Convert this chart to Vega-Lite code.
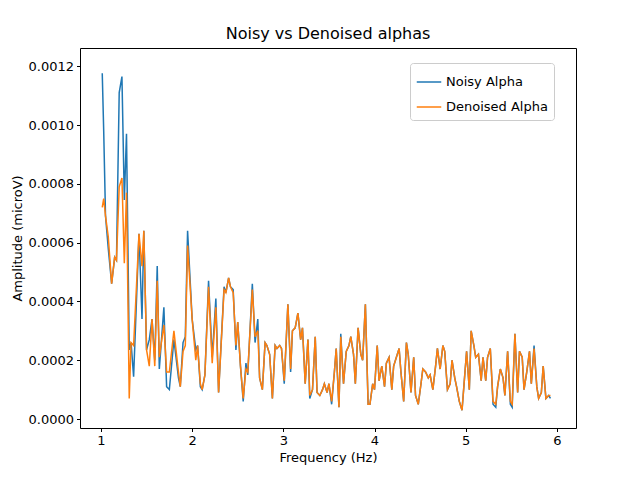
{
  "$schema": "https://vega.github.io/schema/vega-lite/v6.json",
  "width": 496,
  "height": 380,
  "autosize": "none",
  "padding": {"left": 80, "top": 48, "right": 64, "bottom": 52},
  "background": "white",
  "config": {
    "font": "DejaVu Sans",
    "view": {"stroke": "black", "strokeWidth": 1},
    "axis": {"grid": false, "domain": false, "tickColor": "black", "labelColor": "black", "titleColor": "black", "labelFontSize": 13, "titleFontSize": 13, "titleFontWeight": "normal", "tickSize": 3.5, "labelPadding": 3},
    "title": {"fontSize": 16, "fontWeight": "normal", "offset": 6}
  },
  "title": "Noisy vs Denoised alphas",
  "data": {"values": [
    {"f": 1.014, "n": 0.001176, "d": 0.00072},
    {"f": 1.03, "n": 0.00098, "d": 0.00075},
    {"f": 1.05, "n": 0.00069, "d": 0.00069},
    {"f": 1.08, "n": 0.00058, "d": 0.00062},
    {"f": 1.117, "n": 0.00046, "d": 0.00046},
    {"f": 1.15, "n": 0.00055, "d": 0.00055},
    {"f": 1.17, "n": 0.00054, "d": 0.00054},
    {"f": 1.2, "n": 0.00111, "d": 0.00079},
    {"f": 1.23, "n": 0.001165, "d": 0.00082},
    {"f": 1.256, "n": 0.000745, "d": 0.00053},
    {"f": 1.28, "n": 0.00097, "d": 0.00077},
    {"f": 1.31, "n": 0.000235, "d": 0.00007},
    {"f": 1.33, "n": 0.00026, "d": 0.00026},
    {"f": 1.358, "n": 0.000144, "d": 0.00025},
    {"f": 1.417, "n": 0.00063, "d": 0.00063},
    {"f": 1.45, "n": 0.00034, "d": 0.00052},
    {"f": 1.47, "n": 0.00064, "d": 0.00064},
    {"f": 1.5, "n": 0.000235, "d": 0.000235},
    {"f": 1.53, "n": 0.00027, "d": 0.00018},
    {"f": 1.56, "n": 0.00034, "d": 0.00034},
    {"f": 1.59, "n": 0.0002, "d": 0.00018},
    {"f": 1.617, "n": 0.00052, "d": 0.00047},
    {"f": 1.64, "n": 0.00017, "d": 0.00021},
    {"f": 1.69, "n": 0.00038, "d": 0.00032},
    {"f": 1.72, "n": 0.00011, "d": 0.00016},
    {"f": 1.75, "n": 0.0001, "d": 0.00016},
    {"f": 1.8, "n": 0.00027, "d": 0.0003},
    {"f": 1.85, "n": 0.00014, "d": 0.00016},
    {"f": 1.87, "n": 0.00011, "d": 0.00011},
    {"f": 1.9, "n": 0.00026, "d": 0.00023},
    {"f": 1.925, "n": 0.00028, "d": 0.00025},
    {"f": 1.95, "n": 0.00064, "d": 0.00059},
    {"f": 2.0, "n": 0.00034, "d": 0.00034},
    {"f": 2.04, "n": 0.000235, "d": 0.0002},
    {"f": 2.06, "n": 0.00025, "d": 0.00025},
    {"f": 2.09, "n": 0.00011, "d": 0.00012},
    {"f": 2.11, "n": 0.0001, "d": 0.0001},
    {"f": 2.14, "n": 0.00015, "d": 0.00015},
    {"f": 2.18, "n": 0.00047, "d": 0.00045},
    {"f": 2.22, "n": 0.00021, "d": 0.00019},
    {"f": 2.26, "n": 0.00041, "d": 0.00038},
    {"f": 2.29, "n": 0.00009, "d": 0.00009},
    {"f": 2.35, "n": 0.00045, "d": 0.00044},
    {"f": 2.37, "n": 0.00043, "d": 0.00043},
    {"f": 2.4, "n": 0.00048, "d": 0.00048},
    {"f": 2.42, "n": 0.00045, "d": 0.00045},
    {"f": 2.45, "n": 0.00044, "d": 0.00043},
    {"f": 2.48, "n": 0.000235, "d": 0.00025},
    {"f": 2.5, "n": 0.00033, "d": 0.00033},
    {"f": 2.53, "n": 0.00018, "d": 0.00018},
    {"f": 2.56, "n": 0.00006, "d": 0.00007},
    {"f": 2.59, "n": 0.00019, "d": 0.00017},
    {"f": 2.61, "n": 0.00015, "d": 0.00016},
    {"f": 2.66, "n": 0.00046, "d": 0.00044},
    {"f": 2.69, "n": 0.00026, "d": 0.00028},
    {"f": 2.72, "n": 0.00034, "d": 0.0003},
    {"f": 2.74, "n": 0.00014, "d": 0.00014},
    {"f": 2.77, "n": 0.0001, "d": 0.0001},
    {"f": 2.8, "n": 0.00026, "d": 0.00026},
    {"f": 2.82, "n": 0.00025, "d": 0.00025},
    {"f": 2.85, "n": 0.00022, "d": 0.00022},
    {"f": 2.88, "n": 0.00007, "d": 0.00007},
    {"f": 2.91, "n": 0.00025, "d": 0.00025},
    {"f": 2.93, "n": 0.00024, "d": 0.00024},
    {"f": 2.96, "n": 0.00025, "d": 0.00025},
    {"f": 2.98, "n": 0.00024, "d": 0.00024},
    {"f": 3.01, "n": 0.00012, "d": 0.00013},
    {"f": 3.05, "n": 0.00039, "d": 0.00039},
    {"f": 3.08, "n": 0.00016, "d": 0.00017},
    {"f": 3.1, "n": 0.0003, "d": 0.0003},
    {"f": 3.13, "n": 0.00031, "d": 0.00031},
    {"f": 3.16, "n": 0.00036, "d": 0.00036},
    {"f": 3.19, "n": 0.00027, "d": 0.00027},
    {"f": 3.21, "n": 0.00031, "d": 0.00031},
    {"f": 3.24, "n": 0.00012, "d": 0.00012},
    {"f": 3.27, "n": 0.00027, "d": 0.00027},
    {"f": 3.29, "n": 0.00007, "d": 0.00008},
    {"f": 3.32, "n": 0.0001, "d": 0.0001},
    {"f": 3.35, "n": 0.00028, "d": 0.00028},
    {"f": 3.37, "n": 0.00009, "d": 0.00009},
    {"f": 3.4, "n": 0.00008, "d": 0.00008},
    {"f": 3.43, "n": 0.0001, "d": 0.0001},
    {"f": 3.45, "n": 0.00012, "d": 0.00012},
    {"f": 3.48, "n": 0.00009, "d": 0.00009},
    {"f": 3.5, "n": 0.00012, "d": 0.00012},
    {"f": 3.53, "n": 0.00005, "d": 0.00006},
    {"f": 3.56, "n": 0.00016, "d": 0.00016},
    {"f": 3.58, "n": 0.00024, "d": 0.00024},
    {"f": 3.61, "n": 0.00004, "d": 0.00004},
    {"f": 3.63, "n": 0.00029, "d": 0.00028},
    {"f": 3.66, "n": 0.00012, "d": 0.00012},
    {"f": 3.69, "n": 0.00023, "d": 0.00023},
    {"f": 3.72, "n": 0.00025, "d": 0.00025},
    {"f": 3.74, "n": 0.00028, "d": 0.00028},
    {"f": 3.77, "n": 0.00022, "d": 0.00022},
    {"f": 3.79, "n": 0.00012, "d": 0.00012},
    {"f": 3.82, "n": 0.00031, "d": 0.00031},
    {"f": 3.85, "n": 0.00022, "d": 0.00022},
    {"f": 3.87, "n": 0.0002, "d": 0.0002},
    {"f": 3.9, "n": 0.00039, "d": 0.00039},
    {"f": 3.93, "n": 0.00005, "d": 0.00005},
    {"f": 3.95, "n": 0.00005, "d": 0.00005},
    {"f": 3.98, "n": 0.00012, "d": 0.00012},
    {"f": 4.0, "n": 0.0001, "d": 0.0001},
    {"f": 4.03, "n": 0.00025, "d": 0.00025},
    {"f": 4.05, "n": 0.00013, "d": 0.00013},
    {"f": 4.08, "n": 0.00018, "d": 0.00018},
    {"f": 4.11, "n": 0.00011, "d": 0.00011},
    {"f": 4.13, "n": 0.00019, "d": 0.00019},
    {"f": 4.16, "n": 0.00021, "d": 0.00021},
    {"f": 4.19, "n": 0.0001, "d": 0.0001},
    {"f": 4.21, "n": 0.00018, "d": 0.00018},
    {"f": 4.24, "n": 0.00021, "d": 0.00021},
    {"f": 4.27, "n": 0.00024, "d": 0.00024},
    {"f": 4.29, "n": 0.00016, "d": 0.00016},
    {"f": 4.32, "n": 0.00006, "d": 0.00006},
    {"f": 4.35, "n": 0.00026, "d": 0.00026},
    {"f": 4.37, "n": 0.00022, "d": 0.00022},
    {"f": 4.4, "n": 0.00009, "d": 0.00009},
    {"f": 4.43, "n": 0.00021, "d": 0.00021},
    {"f": 4.45, "n": 0.00008, "d": 0.00008},
    {"f": 4.48, "n": 0.00005, "d": 0.00005},
    {"f": 4.51, "n": 0.00012, "d": 0.00012},
    {"f": 4.53, "n": 0.00017, "d": 0.00017},
    {"f": 4.56, "n": 0.00016, "d": 0.00016},
    {"f": 4.59, "n": 0.00014, "d": 0.00014},
    {"f": 4.61, "n": 0.00015, "d": 0.00015},
    {"f": 4.64, "n": 0.0001, "d": 0.0001},
    {"f": 4.67, "n": 0.00018, "d": 0.00018},
    {"f": 4.69, "n": 0.00024, "d": 0.00024},
    {"f": 4.72, "n": 0.00017, "d": 0.00017},
    {"f": 4.75, "n": 0.00025, "d": 0.00025},
    {"f": 4.77, "n": 0.00023, "d": 0.00023},
    {"f": 4.8, "n": 0.0001, "d": 0.0001},
    {"f": 4.83, "n": 0.00012, "d": 0.00012},
    {"f": 4.85, "n": 0.0002, "d": 0.0002},
    {"f": 4.88, "n": 0.00014, "d": 0.00014},
    {"f": 4.9, "n": 0.00011, "d": 0.00011},
    {"f": 4.93, "n": 0.00006, "d": 0.00006},
    {"f": 4.96, "n": 0.00003, "d": 0.00003},
    {"f": 4.98, "n": 0.00011, "d": 0.00011},
    {"f": 5.01, "n": 0.00023, "d": 0.00023},
    {"f": 5.04, "n": 0.0001, "d": 0.0001},
    {"f": 5.06, "n": 0.0003, "d": 0.0003},
    {"f": 5.09, "n": 0.00025, "d": 0.00025},
    {"f": 5.11, "n": 0.00021, "d": 0.00021},
    {"f": 5.14, "n": 0.00022, "d": 0.00022},
    {"f": 5.17, "n": 0.00013, "d": 0.00013},
    {"f": 5.19, "n": 0.00021, "d": 0.00021},
    {"f": 5.22, "n": 0.00013, "d": 0.00013},
    {"f": 5.24, "n": 0.00021, "d": 0.00021},
    {"f": 5.27, "n": 0.00024, "d": 0.00024},
    {"f": 5.3, "n": 0.00005, "d": 0.00006},
    {"f": 5.33, "n": 0.00004, "d": 0.00005},
    {"f": 5.35, "n": 0.00011, "d": 0.00011},
    {"f": 5.38, "n": 0.00017, "d": 0.00017},
    {"f": 5.41, "n": 0.00014, "d": 0.00014},
    {"f": 5.43, "n": 0.00008, "d": 0.00008},
    {"f": 5.46, "n": 0.00023, "d": 0.00023},
    {"f": 5.49, "n": 0.00005, "d": 0.00006},
    {"f": 5.51, "n": 0.00004, "d": 0.00005},
    {"f": 5.54, "n": 0.00029, "d": 0.00029},
    {"f": 5.57, "n": 0.00009, "d": 0.00009},
    {"f": 5.59, "n": 0.00023, "d": 0.00023},
    {"f": 5.62, "n": 0.00021, "d": 0.00021},
    {"f": 5.64, "n": 0.0001, "d": 0.0001},
    {"f": 5.67, "n": 0.00016, "d": 0.00016},
    {"f": 5.7, "n": 0.00023, "d": 0.00023},
    {"f": 5.72, "n": 0.00012, "d": 0.00012},
    {"f": 5.75, "n": 0.00025, "d": 0.00024},
    {"f": 5.78, "n": 0.00011, "d": 0.00011},
    {"f": 5.8, "n": 0.00007, "d": 0.00007},
    {"f": 5.83, "n": 0.00009, "d": 0.00009},
    {"f": 5.85, "n": 0.00018, "d": 0.00018},
    {"f": 5.88, "n": 0.00007, "d": 0.00007},
    {"f": 5.91, "n": 0.00008, "d": 0.00008},
    {"f": 5.93, "n": 0.00007, "d": 0.00008}
  ]},
  "transform": [
    {"fold": ["n", "d"], "as": ["key", "v"]},
    {"lookup": "key", "from": {"data": {"values": [{"key": "n", "series": "Noisy Alpha"}, {"key": "d", "series": "Denoised Alpha"}]}, "key": "key", "fields": ["series"]}}
  ],
  "mark": {"type": "line", "strokeWidth": 1.5, "clip": true},
  "encoding": {
    "x": {"field": "f", "type": "quantitative", "title": "Frequency (Hz)", "scale": {"domain": [0.77, 6.21], "nice": false, "zero": false}, "axis": {"values": [1, 2, 3, 4, 5, 6], "format": "d"}},
    "y": {"field": "v", "type": "quantitative", "title": "Amplitude (microV)", "scale": {"domain": [-0.0000306, 0.001262], "nice": false, "zero": false}, "axis": {"values": [0, 0.0002, 0.0004, 0.0006, 0.0008, 0.001, 0.0012], "format": ".4f"}},
    "color": {"field": "series", "type": "nominal", "sort": ["Noisy Alpha", "Denoised Alpha"], "scale": {"domain": ["Noisy Alpha", "Denoised Alpha"], "range": ["#1f77b4", "#ff7f0e"]},
      "legend": {"title": null, "orient": "none", "legendX": 330, "legendY": 15, "symbolType": "stroke", "symbolStrokeWidth": 1.5, "symbolSize": 600, "labelFontSize": 13, "labelColor": "black", "fillColor": "white", "strokeColor": "#cccccc", "padding": 6, "cornerRadius": 3, "rowPadding": 5}},
    "order": {"field": "key", "sort": "descending"}
  }
}
